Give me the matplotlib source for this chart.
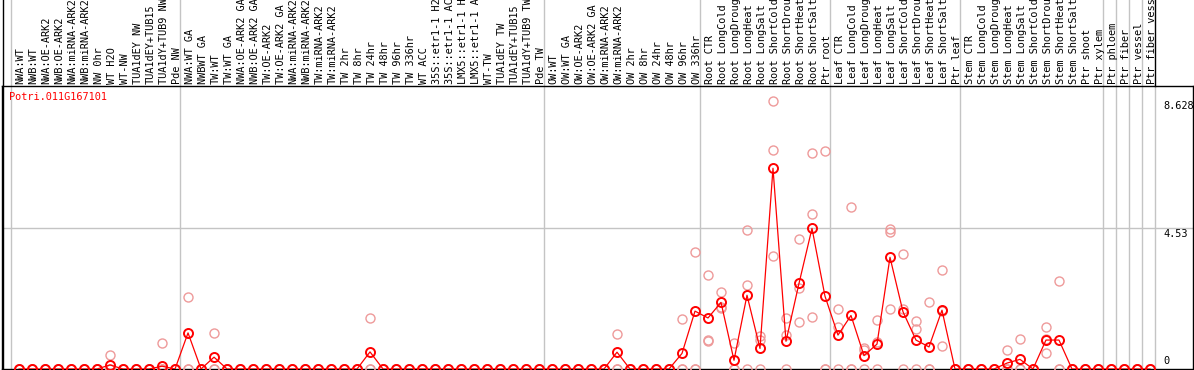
import matplotlib
matplotlib.use("Agg")
import matplotlib.pyplot as plt
import matplotlib.transforms as mtransforms
from matplotlib.lines import Line2D
import numpy as np

plt.rcParams["font.family"] = ["DejaVu Sans Mono"]

gene_id = "Potri.011G167101"

labels = [
    # NW
    "NWA:WT", "NWB:WT", "NWA:OE-ARK2", "NWB:OE-ARK2", "NWA:miRNA-ARK2",
    "NWB:miRNA-ARK2", "NW 0hr", "WT H2O", "WT-NW", "TUA1dEY NW",
    "TUA1dEY+TUB15", "TUA1dY+TUB9 NW", "Pde NW",
    # TW
    "NWA:WT GA", "NWBWT GA", "TW:WT", "TW:WT GA", "NWA:OE-ARK2 GA",
    "NWB:OE-ARK2 GA", "TW:OE-ARK2", "TW:OE-ARK2 GA", "NWA:miRNA-ARK2",
    "NWB:miRNA-ARK2", "TW:miRNA-ARK2", "TW:miRNA-ARK2", "TW 2hr", "TW 8hr",
    "TW 24hr", "TW 48hr", "TW 96hr", "TW 336hr", "WT ACC", "35S::etr1-1 H2",
    "35S::etr1-1 AC", "LMX5::etr1-1 H", "LMX5::etr1-1 A", "WT-TW",
    "TUA1dEY TW", "TUA1dEY+TUB15", "TUA1dY+TUB9 TW", "Pde TW",
    # OW
    "OW:WT", "OW:WT GA", "OW:OE-ARK2", "OW:OE-ARK2 GA", "OW:miRNA-ARK2",
    "OW:miRNA-ARK2", "OW 2hr", "OW 8hr", "OW 24hr", "OW 48hr", "OW 96hr",
    "OW 336hr",
    # root
    "Root CTR", "Root LongCold", "Root LongDroug", "Root LongHeat",
    "Root LongSalt", "Root ShortCold", "Root ShortDrou", "Root ShortHeat",
    "Root ShortSalt", "Ptr root",
    # leaf
    "Leaf CTR", "Leaf LongCold", "Leaf LongDroug", "Leaf LongHeat",
    "Leaf LongSalt", "Leaf ShortCold", "Leaf ShortDrou", "Leaf ShortHeat",
    "Leaf ShortSalt", "Ptr leaf",
    # stem
    "Stem CTR", "Stem LongCold", "Stem LongDroug", "Stem LongHeat",
    "Stem LongSalt", "Stem ShortCold", "Stem ShortDrou", "Stem ShortHeat",
    "Stem ShortSalt", "Ptr shoot", "Ptr xylem",
    "Ptr phloem", "Ptr fiber", "Ptr vessel", "Ptr fiber vess",
]

group_sizes = [13, 28, 12, 10, 10, 11, 1, 1, 1, 1]

mean_expr = [
    0, 0, 0, 0, 0, 0, 0, 0.13, 0, 0, 0, 0.09, 0,
    1.16, 0, 0.38, 0, 0, 0, 0, 0, 0, 0, 0, 0, 0, 0, 0.55, 0,
    0, 0, 0, 0, 0, 0, 0, 0, 0, 0, 0, 0,
    0, 0, 0, 0, 0, 0.54, 0, 0, 0, 0, 0.50, 1.86,
    1.64, 2.14, 0.28, 2.37, 0.66, 6.45, 0.89, 2.75, 4.52, 2.34,
    1.09, 1.72, 0.43, 0.80, 3.59, 1.84, 0.93, 0.71, 1.89, 0,
    0, 0, 0, 0.19, 0.31, 0, 0.93, 0.93, 0, 0, 0,
    0, 0, 0, 0,
]

rep_a = [
    0, 0, 0, 0, 0, 0, 0, 0.45, 0, 0, 0, 0.84, 0,
    2.30, 0, 1.16, 0, 0, 0, 0, 0, 0, 0, 0, 0, 0, 0, 1.64, 0,
    0, 0, 0, 0, 0, 0, 0, 0, 0, 0, 0, 0,
    0, 0, 0, 0, 0, 1.11, 0, 0, 0, 0, 1.61, 3.75,
    3.01, 2.46, 0.85, 4.46, 1.07, 8.628, 1.63, 4.17, 6.93, 7.02,
    1.93, 5.22, 0.66, 1.57, 4.50, 3.70, 1.54, 2.14, 3.18, 0,
    0, 0, 0, 0.61, 0.96, 0, 1.35, 2.82, 0, 0, 0,
    0, 0, 0, 0,
]

rep_b = [
    0, 0, 0, 0, 0, 0, 0, 0, 0, 0, 0, 0, 0,
    0, 0, 0, 0, 0, 0, 0, 0, 0, 0, 0, 0, 0, 0, 0, 0,
    0, 0, 0, 0, 0, 0, 0, 0, 0, 0, 0, 0,
    0, 0, 0, 0, 0, 0, 0, 0, 0, 0, 0, 0,
    0.93, 2.00, 0, 2.70, 0.93, 7.03, 1.09, 2.59, 4.97, 0,
    1.34, 0, 0.61, 0.88, 4.39, 1.92, 1.27, 0, 1.85, 0,
    0, 0, 0, 0, 0, 0, 0.95, 0, 0, 0, 0,
    0, 0, 0, 0,
]

rep_c = [
    0, 0, 0, 0, 0, 0, 0, 0, 0, 0, 0, 0, 0,
    0, 0, 0, 0, 0, 0, 0, 0, 0, 0, 0, 0, 0, 0, 0, 0,
    0, 0, 0, 0, 0, 0, 0, 0, 0, 0, 0, 0,
    0, 0, 0, 0, 0, 0, 0, 0, 0, 0, 0, 0,
    0.90, 1.96, 0, 0, 0, 3.62, 0, 1.50, 1.66, 0,
    0, 0, 0, 0, 1.93, 0, 0, 0, 0.74, 0,
    0, 0, 0, 0, 0, 0, 0.51, 0, 0, 0, 0,
    0, 0, 0, 0,
]

ytick_vals = [8.628, 4.53, 0]
grid_val = 4.53

W, H = 1194, 370
fig = plt.figure(figsize=(W / 100, H / 100), dpi=100)
ax_h = 283
ax = fig.add_axes([2 / W, 1 / H, 1191 / W, ax_h / H])
x = np.arange(len(labels))
ax.set_xlim(-1.31, 90.31)
ax.set_ylim(0, 9.094)
ax.set_xticks([])
ax.set_yticks([])
for s in ax.spines.values():
    s.set_color("black")
    s.set_linewidth(1)

grey = "#c4c4c4"
ax.axhline(grid_val, color=grey, lw=1, zorder=1)

# group separators, running up through the label strip
top = 369 / ax_h
bounds = [-0.65] + list(np.cumsum(group_sizes) - 0.6)
for b in bounds[:-1]:
    ax.axvline(b, ymin=0, ymax=top, color=grey, lw=1, clip_on=False, zorder=1)
ax.axvline(bounds[-1], ymin=0, ymax=1, color=grey, lw=1, zorder=1)
ax.axvline(bounds[-1], ymin=1, ymax=top, color="black", lw=1, clip_on=False)
fig.add_artist(Line2D([2.5 / W, 2.5 / W], [0, 1], color="black", lw=1))

# replicates
for rep in (rep_a, rep_b, rep_c):
    ax.plot(x, rep, "o", mfc="none", mec="#ee9a9a", ms=6.5, mew=1.0, zorder=3)

# mean
ax.plot(x, mean_expr, "-", color="red", lw=0.9, zorder=4)
ax.plot(x, mean_expr, "o", mfc="none", mec="red", ms=6.5, mew=1.4, zorder=5)

trans = mtransforms.blended_transform_factory(ax.transData, ax.transAxes)
for i, lab in enumerate(labels):
    ax.text(i + 0.12, 1 + 1.5 / ax_h, lab, rotation=90, ha="center",
            va="bottom", transform=trans, fontsize=7.4, clip_on=False)

lab_x = (1163 - 19) / 13
for v in ytick_vals:
    if v == 0:
        ax.text(lab_x, 0.1, "0", ha="left", va="bottom", fontsize=7.4)
    else:
        ax.text(lab_x, v - 0.03, f"{v:g}", ha="left", va="top", fontsize=7.4)

fig.text(9 / W, 1 - 92 / H, gene_id, color="red", ha="left", va="top",
         fontsize=7.4)

fig.savefig("out.png", dpi=100)
plt.close(fig)
